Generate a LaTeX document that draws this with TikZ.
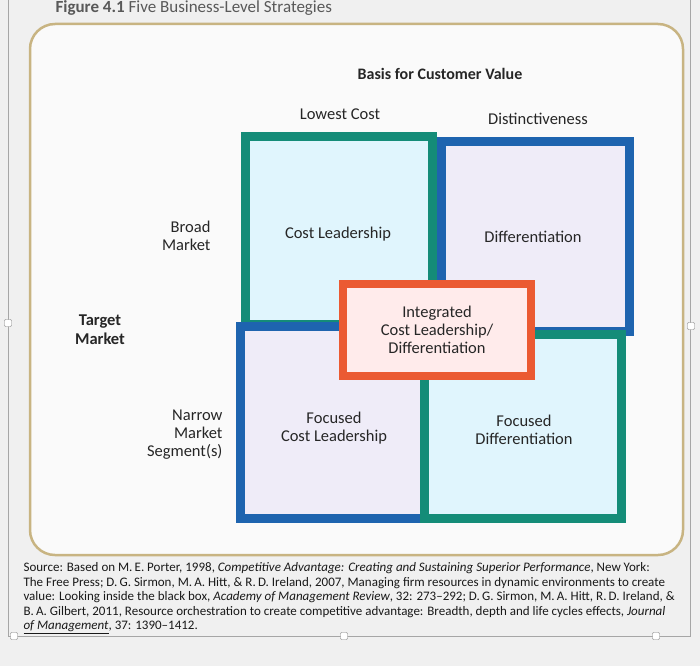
\documentclass[tikz,border=0pt]{standalone}
\usepackage{fontspec}
\setmainfont{Carlito}
\definecolor{qteal}{RGB}{20,140,120}
\definecolor{qblue}{RGB}{30,100,175}
\definecolor{qorange}{RGB}{235,90,50}
\definecolor{frame}{RGB}{200,180,130}
\begin{document}
\begin{tikzpicture}[x=1pt,y=-1pt,
 lab/.style={font=\fontsize{16.5}{18}\selectfont, text=black!85, align=center},
 tealq/.style={draw=qteal, line width=9pt, fill=cyan!12},
 blueq/.style={draw=qblue, line width=9pt, fill=cyan!8!blue!6},
 handle/.style={draw=gray, fill=white, minimum size=7pt, inner sep=0pt, rounded corners=1pt}]
\useasboundingbox (0,0) rectangle (700,666);
\fill[gray!12] (0,0) rectangle (700,666);
\draw[gray!70, line width=0.8pt] (8,0) -- (8,636) -- (690,636) -- (690,0);
\node[anchor=west, font=\bfseries\fontsize{17}{18}\selectfont, text=gray!70!black] (title) at (52,8) {Figure 4.1 \mdseries Five Business-Level Strategies};
\draw[draw=frame, line width=2.5pt, fill=white!96!gray, rounded corners=25pt] (30,24) rectangle (683,555);
\node[lab, font=\bfseries\fontsize{16}{18}\selectfont] (basis) at (440,74) {Basis for Customer Value};
\node[lab] (low) at (340,114) {Lowest Cost};
\node[lab] (dist) at (538,119) {Distinctiveness};
\node[lab, font=\bfseries\fontsize{16.5}{19}\selectfont] (tm) at (100,330) {Target\\Market};
\node[lab, align=right, anchor=east] (broad) at (214,236) {Broad\\Market};
\node[lab, align=right, anchor=east] (narrow) at (226,435) {Narrow\\Market\\Segment(s)};
\node[tealq, minimum width=187pt, minimum height=188pt] (tl) at (339,230) {};
\node[blueq, minimum width=188pt, minimum height=190pt] (tr) at (535,236) {};
\node[blueq, minimum width=186pt, minimum height=192pt] (bl) at (333,422) {};
\node[tealq, minimum width=197pt, minimum height=184pt] (br) at (523,426) {};
\node[lab] (cl) at (338,234) {Cost Leadership};
\node[lab] (df) at (533,237) {Differentiation};
\node[lab] (fcl) at (334,428) {Focused\\Cost Leadership};
\node[lab] (fd) at (524,430) {Focused\\Differentiation};
\node[draw=qorange, line width=8pt, fill=red!8, minimum width=188pt, minimum height=92pt, lab] (int) at (437,330) {Integrated\\Cost Leadership/\\Differentiation};
\node[anchor=north west, align=left, font=\fontsize{13}{14.6}\selectfont, text=black!90] (src) at (20,559) {Source: Based on M.\,E. Porter, 1998, \textit{Competitive Advantage: Creating and Sustaining Superior Performance}, New York:\\The Free Press; D.\,G. Sirmon, M.\,A. Hitt, \& R.\,D. Ireland, 2007, Managing firm resources in dynamic environments to create\\value: Looking inside the black box, \textit{Academy of Management Review}, 32: 273--292; D.\,G. Sirmon, M.\,A. Hitt, R.\,D. Ireland, \&\\B.\,A. Gilbert, 2011, Resource orchestration to create competitive advantage: Breadth, depth and life cycles effects, \textit{Journal}\\\textit{\underline{of Management}}, 37: 1390--1412.};
\node[handle] (h1) at (8,323) {};
\node[handle] (h2) at (691,326) {};
\node[handle] (h3) at (14,636) {};
\node[handle] (h4) at (344,636) {};
\node[handle] (h5) at (656,636) {};
\end{tikzpicture}
\end{document}
